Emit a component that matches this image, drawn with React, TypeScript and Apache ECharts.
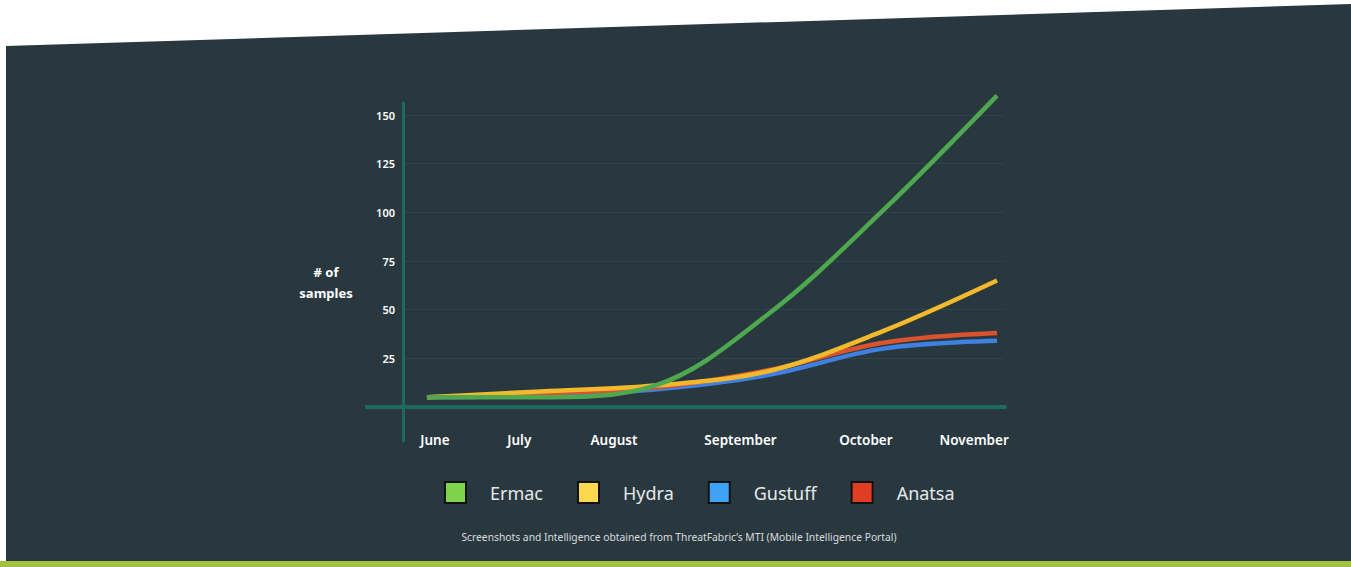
import React, { useEffect, useRef } from "react";
import * as echarts from "echarts";

const months = ["June", "July", "August", "September", "October", "November"];
const yTicks = [25, 50, 75, 100, 125, 150];

const ermac = [5, 5, 11, 48, 101, 160];
const hydra = [5, 8, 11, 18.5, 39, 65];
const gustuff = [5, 6, 9, 16.5, 30, 34];
const anatsa = [5, 7, 10, 19, 33, 38];

const seriesNames = ["Ermac", "Hydra", "Gustuff", "Anatsa"];
const lineColors = ["#4ea84f", "#f3b92c", "#3f80e0", "#d9532e"];
const legendColors = ["#7ed24c", "#fcd84c", "#3ea2f5", "#e03e22"];
const seriesValues = [ermac, hydra, gustuff, anatsa];

const yName = "# of\nsamples";
const footer =
  "Screenshots and Intelligence obtained from ThreatFabric\u2019s MTI (Mobile Intelligence Portal)";

export default function App() {
  const ref = useRef<HTMLDivElement>(null);

  useEffect(() => {
    if (!ref.current) return;
    const chart = echarts.init(ref.current, null, { renderer: "svg" });
    const labelAt = [0.07, 0.81, 1.64, 2.75, 3.85, 4.8];
    const font = "'Noto Sans', sans-serif";
    const zOrder = [5, 4, 2, 3];

    chart.setOption({
      animation: false,
      backgroundColor: "#ffffff",
      textStyle: { fontFamily: font },
      grid: { left: 403, right: 346, top: 103, bottom: 126 },
      xAxis: {
        type: "value",
        min: -0.21,
        max: 5.07,
        axisLine: { onZero: true, lineStyle: { color: "#1e6a5e", width: 4 } },
        axisTick: { show: false },
        splitLine: { show: false },
        axisLabel: {
          customValues: labelAt,
          formatter: (v: number) => months[labelAt.indexOf(v)] ?? "",
          color: "#ffffff",
          fontSize: 13.5,
          fontWeight: 600,
          fontFamily: font,
          margin: -8,
        },
      },
      yAxis: {
        type: "value",
        min: -17.47,
        max: 156.2,
        name: "\u00a0\n" + yName,
        nameLocation: "middle",
        nameRotate: 0,
        nameGap: 77,
        nameTextStyle: {
          align: "center",
          color: "#ffffff",
          fontSize: 13,
          fontWeight: 700,
          fontFamily: font,
          lineHeight: 21,
        },
        axisLine: { show: true, onZero: false, lineStyle: { color: "#1e6a5e", width: 3 } },
        axisTick: { show: false, customValues: yTicks },
        axisLabel: {
          customValues: yTicks,
          color: "#ffffff",
          fontSize: 11,
          fontWeight: 600,
          fontFamily: font,
          margin: 8,
        },
        splitLine: {
          show: true,
          lineStyle: { color: "#2f5553", type: "dotted", width: 1 },
        },
      },
      legend: {
        left: 439,
        top: 476,
        icon: "rect",
        itemWidth: 21,
        itemHeight: 21,
        itemGap: 34,
        textStyle: {
          color: "#e6e8ea",
          fontSize: 18,
          fontFamily: font,
          padding: [0, 0, 0, 19],
        },
        data: seriesNames.map((n, i) => ({
          name: n,
          itemStyle: { color: legendColors[i], borderColor: "#111111", borderWidth: 2 },
        })),
      },
      series: seriesNames.map((n, i) => ({
        name: n,
        type: "line",
        data: seriesValues[i].map((v, k) => [k, v]),
        smooth: 0.35,
        showSymbol: false,
        clip: false,
        z: zOrder[i],
        color: lineColors[i],
        lineStyle: { color: lineColors[i], width: 4.5 },
      })),
      graphic: [
        {
          type: "polygon",
          z: -10,
          silent: true,
          shape: { points: [[6, 46], [1351, 4], [1351, 561], [6, 561]] },
          style: { fill: "#29383f" },
        },
        {
          type: "rect",
          z: -10,
          silent: true,
          shape: { x: 0, y: 561, width: 1351, height: 6 },
          style: { fill: "#a0c240" },
        },
        {
          type: "line",
          z: 10,
          silent: true,
          shape: { x1: 365, y1: 407, x2: 404, y2: 407 },
          style: { stroke: "#1e6a5e", lineWidth: 4 },
        },
        {
          type: "text",
          x: 679,
          y: 537,
          silent: true,
          style: {
            text: footer,
            fill: "#d9dcde",
            fontSize: 10.3,
            fontFamily: font,
            align: "center",
            verticalAlign: "middle",
          },
        },
      ],
    });

    return () => chart.dispose();
  }, []);

  return (
    <div
      ref={ref}
      style={{ position: "fixed", left: 0, top: 0, width: 1351, height: 567 }}
    />
  );
}
